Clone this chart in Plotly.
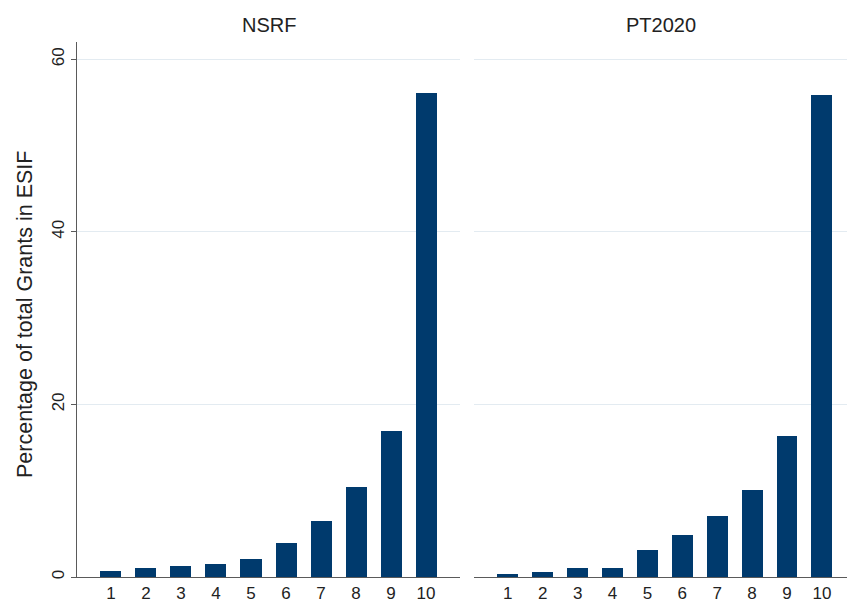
import plotly.graph_objects as go

deciles = [1, 2, 3, 4, 5, 6, 7, 8, 9, 10]
tick_labels = ["1", "2", "3", "4", "5", "6", "7", "8", "9", "10"]
nsrf = [0.7, 1.1, 1.3, 1.55, 2.1, 3.9, 6.5, 10.4, 16.9, 56.1]
pt2020 = [0.4, 0.55, 1.1, 1.1, 3.1, 4.9, 7.05, 10.1, 16.3, 55.9]
panel_titles = ["NSRF", "PT2020"]
y_ticks = [0, 20, 40, 60]

W, H = 847, 601
BAR = "#003a6d"
AX = "#5a5a5a"
GRID = "#e3ebf1"
FONT = "Liberation Sans, Arial, Helvetica, sans-serif"

def px_x(a, b):
    return [a / W, b / W]

def px_y(top, bottom):
    return [(H - bottom) / H, (H - top) / H]

fig = go.Figure()
fig.add_trace(go.Bar(x=deciles, y=nsrf, marker=dict(color=BAR, line=dict(width=0)),
                     width=0.6, xaxis="x", yaxis="y", showlegend=False))
fig.add_trace(go.Bar(x=deciles, y=pt2020, marker=dict(color=BAR, line=dict(width=0)),
                     width=0.6, xaxis="x2", yaxis="y2", showlegend=False))

xcommon = dict(tickmode="array", tickvals=deciles, ticktext=tick_labels, automargin=False,
               showgrid=False, zeroline=False, showline=True, linecolor=AX, linewidth=1.2,
               ticks="", tickfont=dict(size=17, color="#222"), fixedrange=True)
ycommon = dict(range=[0, 62.0], tickmode="array", tickvals=y_ticks, automargin=False,
               showgrid=True, gridcolor=GRID, gridwidth=1, zeroline=False, fixedrange=True)

fig.update_layout(
    width=W, height=H,
    margin=dict(l=0, r=0, t=0, b=0),
    paper_bgcolor="white", plot_bgcolor="white",
    font=dict(family=FONT, color="#222"),
    bargap=0,
    xaxis=dict(domain=px_x(77, 460), range=[0.03, 10.97], anchor="y", **xcommon),
    xaxis2=dict(domain=px_x(474, 847), range=[0.03, 10.72], anchor="y2", **xcommon),
    yaxis=dict(domain=px_y(42, 577), anchor="x", showline=True, linecolor=AX, linewidth=1.2,
               ticks="outside", ticklen=5, tickcolor=AX, tickangle=-90,
               tickfont=dict(size=17, color="#222"), **ycommon),
    yaxis2=dict(domain=px_y(42, 577), anchor="x2", showline=False, showticklabels=False,
                ticks="", **ycommon),
    annotations=[
        dict(text=panel_titles[0], x=268.5 / W, y=(H - 25) / H, xref="paper", yref="paper",
             showarrow=False, font=dict(size=20, color="#222"), xanchor="center", yanchor="middle"),
        dict(text=panel_titles[1], x=660.5 / W, y=(H - 25) / H, xref="paper", yref="paper",
             showarrow=False, font=dict(size=20, color="#222"), xanchor="center", yanchor="middle"),
        dict(text="Percentage of total Grants in ESIF", x=25 / W, y=(H - 315) / H,
             xref="paper", yref="paper", showarrow=False, textangle=-90,
             font=dict(size=21.5, color="#222"), xanchor="center", yanchor="middle"),
    ],
)

fig.write_html("out.html", config={"displayModeBar": False},
               post_script="document.body.style.margin='0px';document.body.style.overflow='hidden';")
